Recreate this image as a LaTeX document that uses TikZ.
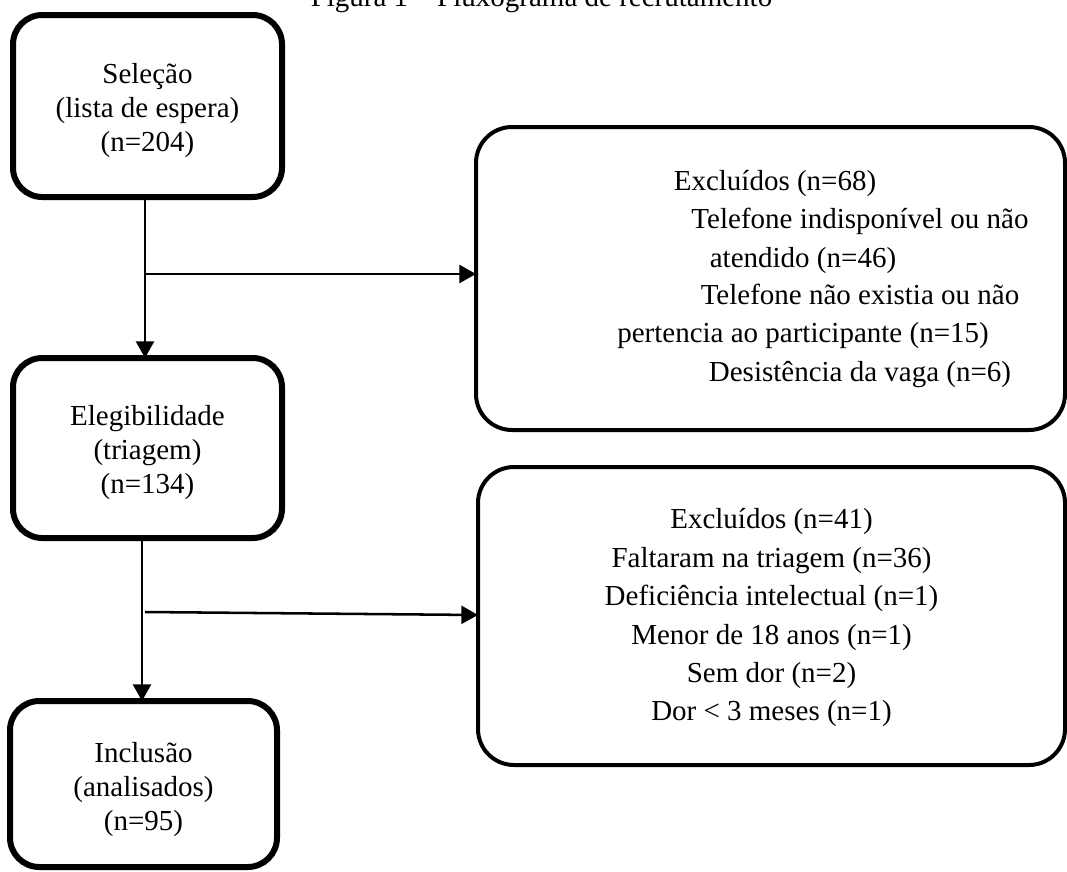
\documentclass[tikz,border=0pt]{standalone}
\usepackage{fontspec}
\setmainfont{Liberation Serif}
\usetikzlibrary{arrows.meta}
\begin{document}
\begin{tikzpicture}[x=0.75pt,y=-0.75pt,
  every node/.style={inner sep=0pt, outer sep=0pt},
  txt/.style={font=\fontsize{21.75}{25.5}\selectfont, align=center},
  leftbox/.style={draw, line width=4.5pt, rounded corners=22pt, txt},
  rightbox/.style={draw, line width=3pt, rounded corners=27pt},
  rline/.style={font=\fontsize{21.75}{28.8}\selectfont, anchor=base},
  arr/.style={line width=1.9pt, -{Triangle[length=12.5pt,width=13.5pt]}}]
\useasboundingbox (0,0) rectangle (1067,871);

\node[anchor=base, font=\fontsize{21.75}{26}\selectfont] (title) at (541.5,6) {Figura 1 – Fluxograma de recrutamento};

\node[leftbox, minimum width=201.75pt, minimum height=136.5pt] (sel) at (147.5,106)
  {\rule{0pt}{22.5pt}Seleção\\(lista de espera)\\(n=204)};
\node[leftbox, minimum width=201.75pt, minimum height=135pt] (eleg) at (147.5,448)
  {\rule{0pt}{22pt}Elegibilidade\\(triagem)\\(n=134)};
\node[leftbox, minimum width=200.25pt, minimum height=124.5pt] (incl) at (143.5,784)
  {\rule{0pt}{24pt}Inclusão\\(analisados)\\(n=95)};

\node[rightbox, minimum width=441.75pt, minimum height=227.25pt] (exA) at (770.5,278.5) {};
\node[rline] (a1) at (775,190) {Excluídos (n=68)};
\node[rline] (a2) at (860,228) {Telefone indisponível ou não};
\node[rline] (a3) at (803,267) {atendido (n=46)};
\node[rline] (a4) at (860,304) {Telefone não existia ou não};
\node[rline] (a5) at (803,342) {pertencia ao participante (n=15)};
\node[rline] (a6) at (860,381) {Desistência da vaga (n=6)};

\node[rightbox, minimum width=440.25pt, minimum height=223.5pt,
      font=\fontsize{21.75}{28.8}\selectfont, align=center] (exB) at (771.5,616)
  {\rule{0pt}{18pt}Excluídos (n=41)\\Faltaram na triagem (n=36)\\Deficiência intelectual (n=1)\\Menor de 18 anos (n=1)\\Sem dor (n=2)\\Dor < 3 meses (n=1)};

\coordinate (v1) at (145,0);
\coordinate (b1) at (145,274);
\coordinate (v2) at (142,0);
\coordinate (b2) at (145,612);
\coordinate (b2e) at (0,615);

\draw[arr] (sel.south -| v1) -- (eleg.north -| v1);
\draw[arr] (b1) -- (b1 -| exA.west);
\draw[arr] (eleg.south -| v2) -- (incl.north -| v2);
\draw[arr] (b2) -- (b2e -| exB.west);
\end{tikzpicture}
\end{document}
